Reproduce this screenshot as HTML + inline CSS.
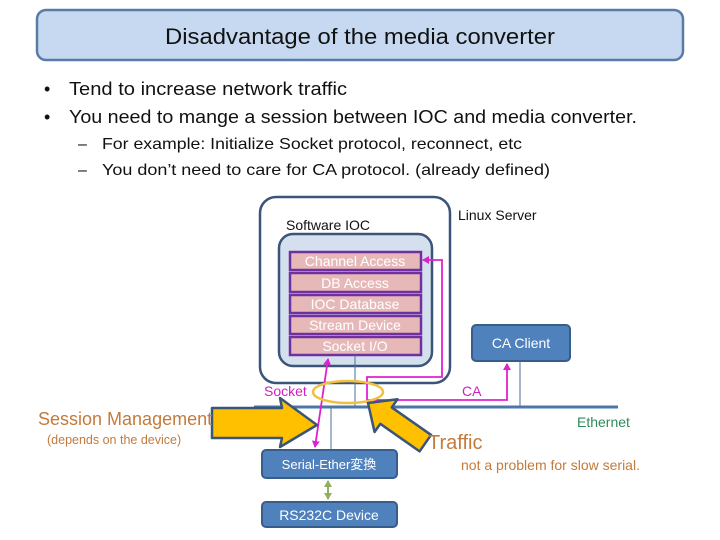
<!DOCTYPE html>
<html><head><meta charset="utf-8"><style>
html,body{margin:0;padding:0;background:#fff;}
svg{display:block;font-family:"Liberation Sans","Noto Sans CJK JP",sans-serif;}
</style></head><body>
<svg width="720" height="540" viewBox="0 0 720 540" xmlns="http://www.w3.org/2000/svg">
<defs>
<marker id="mg" markerWidth="8" markerHeight="8" refX="6" refY="4" orient="auto-start-reverse" markerUnits="userSpaceOnUse"><path d="M0,0 L7,4 L0,8 z" fill="#e020d0"/></marker>
<marker id="gr" markerWidth="8" markerHeight="8" refX="6" refY="4" orient="auto-start-reverse" markerUnits="userSpaceOnUse"><path d="M0,0 L7,4 L0,8 z" fill="#8fb060"/></marker>
</defs>
<rect x="37" y="10" width="646" height="50" rx="9" fill="#c6d9f1" stroke="#5a7ba6" stroke-width="2.5"/>
<text x="360" y="44" font-size="22" text-anchor="middle" fill="#111" textLength="390" lengthAdjust="spacingAndGlyphs">Disadvantage of the media converter</text>
<g fill="#111" font-size="18">
<text x="44" y="95">•</text><text x="69" y="95" textLength="278" lengthAdjust="spacingAndGlyphs">Tend to increase network traffic</text>
<text x="44" y="123">•</text><text x="69" y="123" textLength="568" lengthAdjust="spacingAndGlyphs">You need to mange a session between IOC and media converter.</text>
</g>
<g fill="#111" font-size="16">
<text x="78" y="149">–</text><text x="102" y="149" textLength="420" lengthAdjust="spacingAndGlyphs">For example: Initialize Socket protocol, reconnect, etc</text>
<text x="78" y="175">–</text><text x="102" y="175" textLength="448" lengthAdjust="spacingAndGlyphs">You don’t need to care for CA protocol. (already defined)</text>
</g>
<rect x="260" y="197" width="190" height="186" rx="16" fill="#fff" stroke="#3b5578" stroke-width="2.5"/>
<text x="458" y="220" font-size="14" fill="#111">Linux Server</text>
<text x="286" y="230" font-size="14" fill="#111">Software IOC</text>
<rect x="279" y="234" width="153" height="132" rx="14" fill="#d5e0ee" stroke="#3b5578" stroke-width="2.5"/>
<g stroke="#7030a0" stroke-width="2.5" fill="#e6b9b8">
<rect x="290" y="252" width="131" height="18"/>
<rect x="290" y="273" width="131" height="19"/>
<rect x="290" y="295" width="131" height="18"/>
<rect x="290" y="316" width="131" height="18"/>
<rect x="290" y="337" width="131" height="18"/>
</g>
<g fill="#fff" font-size="14" text-anchor="middle">
<text x="355" y="266">Channel Access</text>
<text x="355" y="288">DB Access</text>
<text x="355" y="309">IOC Database</text>
<text x="355" y="330">Stream Device</text>
<text x="355" y="351">Socket I/O</text>
</g>
<rect x="472" y="325" width="98" height="36" rx="4" fill="#4f81bd" stroke="#385d8a" stroke-width="2"/>
<text x="521" y="348" font-size="14" fill="#fff" text-anchor="middle">CA Client</text>
<g stroke="#4a6f9a" stroke-width="1">
<line x1="355" y1="355" x2="355" y2="407"/>
<line x1="520" y1="361" x2="520" y2="407"/>
<line x1="331" y1="407" x2="331" y2="450"/>
</g>
<line x1="254" y1="407" x2="618" y2="407" stroke="#4a76a8" stroke-width="3"/>
<polyline points="367,403 367,377 442,377 442,260 423,260" fill="none" stroke="#e020d0" stroke-width="1.8" marker-end="url(#mg)"/>
<polyline points="367,400 507,400 507,364" fill="none" stroke="#e020d0" stroke-width="1.8" marker-end="url(#mg)"/>
<line x1="315" y1="447" x2="328" y2="359" stroke="#e020d0" stroke-width="1.8" marker-start="url(#mg)" marker-end="url(#mg)"/>
<ellipse cx="348" cy="392" rx="35" ry="11" fill="none" stroke="#f0c040" stroke-width="2.5"/>
<text x="264" y="396" font-size="14" fill="#d020c0">Socket</text>
<text x="462" y="396" font-size="14" fill="#d020c0">CA</text>
<path d="M212,408 L282,408 L280,398 L317,425 L280,447 L282,438 L212,438 Z" fill="#ffc000" stroke="#3b5578" stroke-width="2.5" stroke-linejoin="round"/>
<g transform="translate(368,403) rotate(35)">
<path d="M0,0 L22,-20 L22,-10 L70,-10 L70,10 L22,10 L22,20 Z" fill="#ffc000" stroke="#3b5578" stroke-width="2.5" stroke-linejoin="round"/>
</g>
<text x="38" y="425" font-size="18" fill="#c47a3a">Session Management</text>
<text x="47" y="444" font-size="12.5" fill="#c47a3a">(depends on the device)</text>
<text x="428" y="449" font-size="20" fill="#c47a3a">Traffic</text>
<text x="461" y="470" font-size="14" fill="#c47a3a">not a problem for slow serial.</text>
<text x="577" y="427" font-size="14" fill="#2e8b57">Ethernet</text>
<rect x="262" y="450" width="135" height="28" rx="4" fill="#4f81bd" stroke="#385d8a" stroke-width="2"/>
<text x="329" y="469" font-size="13" fill="#fff" text-anchor="middle">Serial-Ether変換</text>
<line x1="328" y1="481" x2="328" y2="499" stroke="#8fb060" stroke-width="2" marker-start="url(#gr)" marker-end="url(#gr)"/>
<rect x="262" y="502" width="135" height="25" rx="4" fill="#4f81bd" stroke="#385d8a" stroke-width="2"/>
<text x="329" y="520" font-size="14" fill="#fff" text-anchor="middle">RS232C Device</text>
</svg>
</body></html>
